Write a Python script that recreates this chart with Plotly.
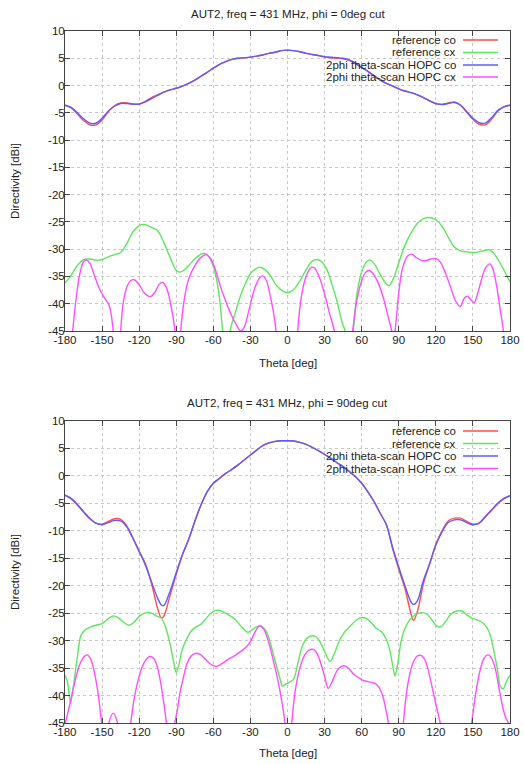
import plotly.graph_objects as go

# ---------------- data: phi = 0deg cut ----------------
theta_co_top = list(range(-180, 181, 5))
co_hopc_top = [-3.6, -4.0, -5.0, -6.1, -6.9, -6.9, -6.0, -4.7, -3.8, -3.3, -3.3, -3.4, -3.4,
               -3.0, -2.4, -1.8, -1.2, -0.8, -0.5, -0.1, 0.4, 1.0, 1.7, 2.4, 3.2, 3.9, 4.4,
               4.8, 5.0, 5.1, 5.2, 5.4, 5.6, 5.9, 6.1, 6.4, 6.5, 6.4, 6.2, 5.9, 5.7, 5.5,
               5.3, 5.2, 5.1, 5.0, 4.7, 4.1, 3.3, 2.6, 1.8, 1.0, 0.4, -0.1, -0.6, -1.0,
               -1.3, -1.7, -2.2, -2.8, -3.3, -3.5, -3.3, -3.1, -3.6, -4.8, -6.0, -6.8,
               -6.9, -5.9, -4.6, -3.9, -3.6]
co_ref_top = [-3.6, -4.1, -5.2, -6.4, -7.2, -7.2, -6.3, -4.8, -3.7, -3.2, -3.2, -3.4, -3.4,
              -2.9, -2.2, -1.7, -1.2, -0.8, -0.5, -0.1, 0.4, 1.0, 1.7, 2.4, 3.2, 3.9, 4.4,
              4.8, 5.0, 5.1, 5.2, 5.4, 5.6, 5.9, 6.1, 6.4, 6.5, 6.4, 6.2, 5.9, 5.7, 5.5,
              5.2, 5.1, 5.0, 4.9, 4.6, 4.0, 3.3, 2.6, 1.8, 1.0, 0.4, -0.1, -0.6, -1.0,
              -1.3, -1.7, -2.2, -2.8, -3.3, -3.4, -3.2, -3.0, -3.6, -4.9, -6.2, -7.1,
              -7.2, -6.2, -4.7, -3.9, -3.6]

theta_cx_ref_top = [-180, -175, -170, -165, -160, -155, -150, -145, -140, -135, -130, -125,
                    -120, -115, -110, -105, -100, -95, -90, -87, -84, -80, -75, -70, -67,
                    -64, -60, -57, -55, -52.5, -50, -48, -46.5, -42, -38, -34, -30, -25,
                    -22, -18, -14, -10, -5, 0, 5, 10, 15, 20, 24, 28, 32, 36, 40, 44, 46.5,
                    50, 53.2, 56, 60, 64, 67, 70, 74, 78, 82, 86, 90, 95, 100, 105, 110,
                    115, 120, 125, 130, 135, 140, 145, 150, 155, 160, 163, 166, 170, 175, 180]
cx_ref_top = [-36.2, -34.8, -33.0, -31.9, -31.8, -32.0, -31.9, -31.4, -31.0, -30.6, -29.0,
              -26.8, -25.7, -25.5, -26.0, -26.6, -28.8, -31.5, -33.9, -34.2, -33.9, -33.0,
              -31.8, -30.9, -30.8, -31.3, -33.2, -36.0, -39.0, -45.0, -52.0, -49.0, -45.0,
              -41.5, -38.5, -36.3, -34.5, -33.5, -33.3, -33.8, -34.8, -36.3, -37.5, -38.0,
              -37.4, -35.8, -33.8, -32.2, -31.9, -32.4, -33.8, -36.5, -39.5, -43.3, -45.0,
              -52.0, -45.0, -38.5, -34.2, -32.3, -32.0, -32.6, -34.2, -35.8, -36.7, -35.2,
              -32.5, -29.3, -27.0, -25.3, -24.4, -24.2, -24.6, -25.8, -27.8, -29.6, -30.3,
              -30.5, -30.6, -30.5, -30.2, -30.1, -30.5, -31.8, -33.8, -36.0]

theta_cx_hopc_top = [-180, -176, -173.8, -171, -168, -165, -162.5, -160, -157, -153, -150,
                     -147, -145, -143, -141, -138, -135, -133, -130, -127, -124, -120, -116,
                     -111, -107, -104, -101, -98, -95, -91, -88.7, -86.4, -83, -80, -75,
                     -70, -66, -62, -58, -54, -50, -46, -42, -38, -35, -31, -27, -23, -20,
                     -17, -14, -11, -9.3, -5, 0, 5, 8.2, 11, 15, 19.6, 22, 26, 30, 34, 37.9,
                     45, 52.7, 56, 60, 63, 66, 69, 73, 77, 81, 84.3, 85.6, 87, 90, 93, 97,
                     100.5, 104, 108, 112, 116, 120, 124, 128, 132, 136, 139.6, 143, 145.5,
                     148, 151, 154, 157, 160, 163.8, 166, 169, 172, 174.6, 178, 180]
cx_hopc_top = [-60, -50, -45, -39, -34.5, -32.3, -32.0, -32.5, -34.3, -36.8, -38.2, -39.3,
               -39.9, -41.5, -45, -55, -45, -40, -37, -35.8, -35.6, -36.5, -38.0, -38.7,
               -37.8, -36.5, -36.1, -37.0, -39.5, -45, -55, -45, -38.5, -35.5, -33.0, -31.5,
               -31.0, -31.8, -34.0, -37.0, -39.5, -41.8, -43.6, -45.0, -44.3, -41.0, -37.5,
               -35.4, -34.9, -35.8, -38.5, -42.0, -45.0, -55, -60, -55, -45.0, -39.0, -35.0,
               -33.3, -33.5, -35.3, -38.2, -41.8, -45.0, -60, -45.0, -39.5, -35.8, -34.3,
               -33.9, -34.4, -36.0, -38.5, -42.0, -45.0, -47.0, -45.0, -38.0, -33.5, -31.3,
               -30.9, -31.5, -32.0, -32.1, -31.8, -31.7, -32.5, -34.5, -37.0, -39.5, -40.5,
               -39.0, -38.6, -39.2, -39.8, -38.0, -35.5, -33.5, -32.7, -33.5, -36.5, -41.0,
               -45.0, -55, -60]

# ---------------- data: phi = 90deg cut ----------------
theta_co_bot = [-180, -175, -170, -165, -160, -155, -150, -145, -140, -135, -130, -125, -120,
                -115, -110, -105, -102, -100, -95, -90, -85, -80, -75, -70, -65, -60, -55,
                -50, -45, -40, -35, -30, -25, -20, -15, -10, -5, 0, 5, 10, 15, 20, 25, 30,
                35, 40, 45, 50, 55, 60, 65, 70, 75, 80, 85, 90, 95, 100, 102, 105, 110, 115,
                120, 125, 130, 135, 140, 145, 150, 155, 160, 165, 170, 175, 180]
co_hopc_bot = [-3.5, -4.1, -5.2, -6.5, -7.7, -8.6, -8.9, -8.5, -8.1, -8.2, -9.3, -11.4, -13.8,
               -16.2, -19.3, -22.3, -23.5, -23.6, -21.0, -17.6, -14.3, -11.6, -8.3, -5.3,
               -2.9, -1.35, -0.45, 0.45, 1.2, 2.0, 2.9, 3.8, 4.7, 5.5, 6.0, 6.3, 6.4, 6.4,
               6.35, 6.1, 5.75, 5.2, 4.6, 3.9, 3.2, 2.4, 1.7, 0.8, -0.15, -1.35, -2.9, -4.7,
               -6.8, -8.9, -13.0, -16.6, -20.0, -23.0, -23.4, -22.8, -19.0, -16.0, -12.6,
               -10.2, -8.5, -8.0, -8.0, -8.5, -8.9, -8.6, -7.4, -6.2, -5.0, -4.1, -3.6]
co_ref_bot = [-3.5, -4.2, -5.3, -6.6, -7.8, -8.6, -8.8, -8.3, -7.8, -7.9, -9.1, -11.3, -13.7,
              -16.0, -19.6, -24.2, -25.9, -25.5, -21.8, -17.9, -14.4, -11.6, -8.3, -5.3,
              -2.9, -1.35, -0.45, 0.45, 1.2, 2.0, 2.9, 3.8, 4.7, 5.5, 6.0, 6.3, 6.4, 6.4,
              6.35, 6.1, 5.75, 5.2, 4.6, 3.9, 3.2, 2.4, 1.7, 0.8, -0.15, -1.35, -2.9, -4.7,
              -6.8, -8.9, -13.2, -17.0, -20.5, -25.2, -26.3, -24.8, -19.6, -16.0, -12.5,
              -10.0, -8.2, -7.7, -7.7, -8.3, -8.8, -8.6, -7.5, -6.3, -5.1, -4.2, -3.6]

theta_cx_ref_bot = [-180, -178, -175.5, -173, -170, -167, -163, -159, -155, -150, -145, -141,
                    -137, -133, -128, -124, -119, -114, -110, -106, -102, -98, -95, -92, -90,
                    -88, -85, -82, -78, -74, -70, -66, -62, -58, -55, -51, -47, -43, -39,
                    -35, -32, -28, -24, -21, -18, -15, -12, -9, -6, -4, -2, 2, 5, 8, 12, 16,
                    20, 23, 27, 31, 34.5, 38, 42, 46, 51, 56, 60, 64, 68, 72, 76, 80, 83,
                    85.5, 87, 89, 92, 95, 99, 104, 109, 113, 117, 120.5, 124, 128, 132, 137,
                    141, 145, 149, 153, 157, 161, 164, 167, 170, 172, 174.5, 177, 180]
cx_ref_bot = [-36.3, -37.5, -41.3, -38.0, -33.0, -29.0, -27.9, -27.5, -27.2, -26.9, -26.0,
              -25.5, -25.8, -26.6, -27.2, -26.6, -25.4, -24.9, -25.0, -25.5, -25.9, -28.0,
              -30.6, -34.0, -35.8, -34.5, -31.5, -29.9, -28.3, -27.5, -27.0, -26.0, -25.0,
              -24.5, -24.5, -24.9, -25.4, -26.0, -27.0, -28.0, -28.5, -27.9, -27.4, -27.4,
              -28.0, -29.5, -32.0, -34.5, -37.0, -38.3, -38.0, -37.5, -37.0, -34.5, -31.0,
              -29.5, -29.1, -29.3, -30.5, -32.5, -33.8, -32.3, -30.0, -28.5, -27.3, -26.2,
              -25.8, -26.0, -26.8, -27.8, -28.4, -29.8, -32.0, -35.0, -36.4, -34.5, -30.0,
              -27.8, -26.2, -25.2, -24.9, -25.2, -26.3, -27.3, -27.5, -26.5, -25.2, -24.6,
              -24.6, -25.3, -25.9, -26.2, -26.6, -27.5, -29.0, -32.0, -35.5, -38.2, -38.8,
              -37.5, -36.3]

theta_cx_hopc_bot = [-180, -176, -172, -168, -164, -162, -159, -156, -153, -150.3, -147,
                     -144.5, -141, -137.5, -135, -131, -126.9, -124, -120, -116, -111.4, -108,
                     -105, -102, -97.9, -94.5, -91.2, -89, -87, -84, -81, -77, -73.5, -70,
                     -66, -62, -57.4, -53, -48, -43.9, -38, -33.2, -30, -26, -22.4, -19, -15,
                     -11.6, -8, -5, -2, 0.7, 3.4, 6, 10, 14, 17, 20.9, 24, 27, 30, 33, 36, 40,
                     43, 46.5, 50, 54, 58.7, 62, 66, 70.8, 74, 77, 79.5, 81.6, 86, 90, 93.7,
                     96, 99, 102, 105, 108, 111, 114, 118, 121, 124, 130, 136, 142, 149, 152,
                     155, 158, 160.5, 162.5, 165, 168, 171, 174, 176.5, 178.7, 180]
cx_hopc_bot = [-45.3, -41.5, -37.5, -34.3, -32.8, -32.6, -33.5, -36.0, -40.0, -45.0, -50,
               -45.0, -43.2, -45.0, -50, -50, -45.0, -40.5, -36.5, -34.0, -32.9, -33.3, -35.0,
               -38.5, -45.0, -52, -45.0, -42.5, -39.5, -36.5, -34.0, -32.6, -32.3, -32.6,
               -33.5, -34.3, -34.7, -34.2, -33.4, -32.9, -32.0, -31.1, -30.2, -28.3, -27.3,
               -28.0, -30.5, -33.5, -37.0, -40.5, -45.0, -50, -45.0, -39.5, -35.0, -32.6,
               -31.8, -31.6, -32.4, -34.2, -36.5, -38.7, -37.5, -35.5, -34.8, -34.6, -35.2,
               -36.2, -36.9, -37.3, -37.5, -37.8, -38.5, -40.0, -42.5, -45.0, -55, -52,
               -45.0, -40.0, -36.0, -33.8, -32.8, -32.7, -33.4, -35.5, -39.5, -42.5, -45.5,
               -55, -60, -55, -45.0, -40.0, -36.2, -33.7, -32.8, -32.6, -33.2, -35.0, -38.5,
               -42.0, -44.0, -45.0, -46.0]

x_tick_vals = [-180, -150, -120, -90, -60, -30, 0, 30, 60, 90, 120, 150, 180]
x_tick_text = ["-180", "-150", "-120", "-90", "-60", "-30", "0", "30", "60", "90", "120", "150", "180"]
y_tick_vals = [10, 5, 0, -5, -10, -15, -20, -25, -30, -35, -40, -45]
y_tick_text = ["10", "5", "0", "-5", "-10", "-15", "-20", "-25", "-30", "-35", "-40", "-45"]

series_names = ["reference co", "reference cx", "2phi theta-scan HOPC co", "2phi theta-scan HOPC cx"]
series_colors = ["#ff4d4d", "#5ee65e", "#5c5cff", "#ff4dff"]
titles = ["AUT2, freq = 431 MHz, phi = 0deg cut", "AUT2, freq = 431 MHz, phi = 90deg cut"]
x_title = "Theta [deg]"
y_title = "Directivity [dBi]"

FONT = "Liberation Sans, Arial, Helvetica, sans-serif"
FS = 11.5
TXT = "#222222"
W, H = 524, 764
ML, MR, MT, MB = 65, 14, 31, 41
PW, PH = W - ML - MR, H - MT - MB


def py2paper(sy):
    return (H - MB - sy) / PH


def px2paper(sx):
    return (sx - ML) / PW


fig = go.Figure()

panels = [
    ("x", "y", [(theta_co_top, co_ref_top), (theta_cx_ref_top, cx_ref_top),
                (theta_co_top, co_hopc_top), (theta_cx_hopc_top, cx_hopc_top)]),
    ("x2", "y2", [(theta_co_bot, co_ref_bot), (theta_cx_ref_bot, cx_ref_bot),
                  (theta_co_bot, co_hopc_bot), (theta_cx_hopc_bot, cx_hopc_bot)]),
]
for xa, ya, series in panels:
    for (tx, vy), name, col in zip(series, series_names, series_colors):
        fig.add_trace(go.Scatter(x=tx, y=vy, mode="lines", name=name, xaxis=xa, yaxis=ya,
                                 line=dict(color=col, width=1.4, shape="spline", smoothing=0.9),
                                 showlegend=False, hoverinfo="skip"))

top_dom = [py2paper(331), 1.0]
bot_dom = [0.0, py2paper(421)]

axis_common = dict(showline=True, linecolor="#444444", linewidth=1, mirror="ticks",
                   ticks="inside", ticklen=5, tickcolor="#444444", automargin=False,
                   showgrid=True, gridcolor="#c8c8c8", griddash="dot", gridwidth=1,
                   zeroline=False, tickfont=dict(family=FONT, size=FS, color=TXT))

xcommon = dict(axis_common, range=[-180, 180], tickmode="array", tickvals=x_tick_vals,
               ticktext=x_tick_text, ticklabelstandoff=-2)
ycommon = dict(axis_common, range=[-45, 10], tickmode="array", tickvals=y_tick_vals,
               ticktext=y_tick_text, ticklabelstandoff=-3)

fig.update_layout(
    width=W, height=H, autosize=False,
    margin=dict(l=ML, r=MR, t=MT, b=MB, autoexpand=False),
    paper_bgcolor="white", plot_bgcolor="white",
    showlegend=False,
    xaxis=dict(xcommon, domain=[0, 1], anchor="y"),
    yaxis=dict(ycommon, domain=top_dom, anchor="x"),
    xaxis2=dict(xcommon, domain=[0, 1], anchor="y2"),
    yaxis2=dict(ycommon, domain=bot_dom, anchor="x2"),
)

annotations = []
shapes = []
txtfont = dict(family=FONT, size=FS, color=TXT)
# panel titles and axis titles
for t, ty, xty, dom in zip(titles, [14, 403], [363, 753], [top_dom, bot_dom]):
    annotations.append(dict(text=t, xref="paper", yref="paper", x=0.5, y=py2paper(ty),
                            xanchor="center", yanchor="middle", showarrow=False, font=txtfont))
    annotations.append(dict(text=x_title, xref="paper", yref="paper", x=0.5, y=py2paper(xty),
                            xanchor="center", yanchor="middle", showarrow=False, font=txtfont))
    annotations.append(dict(text=y_title, xref="paper", yref="paper", x=px2paper(15),
                            y=(dom[0] + dom[1]) / 2, textangle=-90,
                            xanchor="center", yanchor="middle", showarrow=False, font=txtfont))
# gnuplot-style key: text right-aligned, sample line to the right
for rows in ([40, 52.5, 65, 77], [431, 443.5, 456, 468.5]):
    for ry, name, col in zip(rows, series_names, series_colors):
        annotations.append(dict(text=name, xref="paper", yref="paper", x=px2paper(457),
                                y=py2paper(ry), xanchor="right", yanchor="middle",
                                showarrow=False, borderpad=0, font=txtfont))
        shapes.append(dict(type="line", xref="paper", yref="paper",
                           x0=px2paper(463), x1=px2paper(498), y0=py2paper(ry), y1=py2paper(ry),
                           line=dict(color=col, width=1.4)))

fig.update_layout(annotations=annotations, shapes=shapes)

# remove the default 8px page margin so the 524x764 figure fills the window exactly
fig.write_html("out.html", config={"displayModeBar": False},
               post_script="document.body.style.margin='0px';")
